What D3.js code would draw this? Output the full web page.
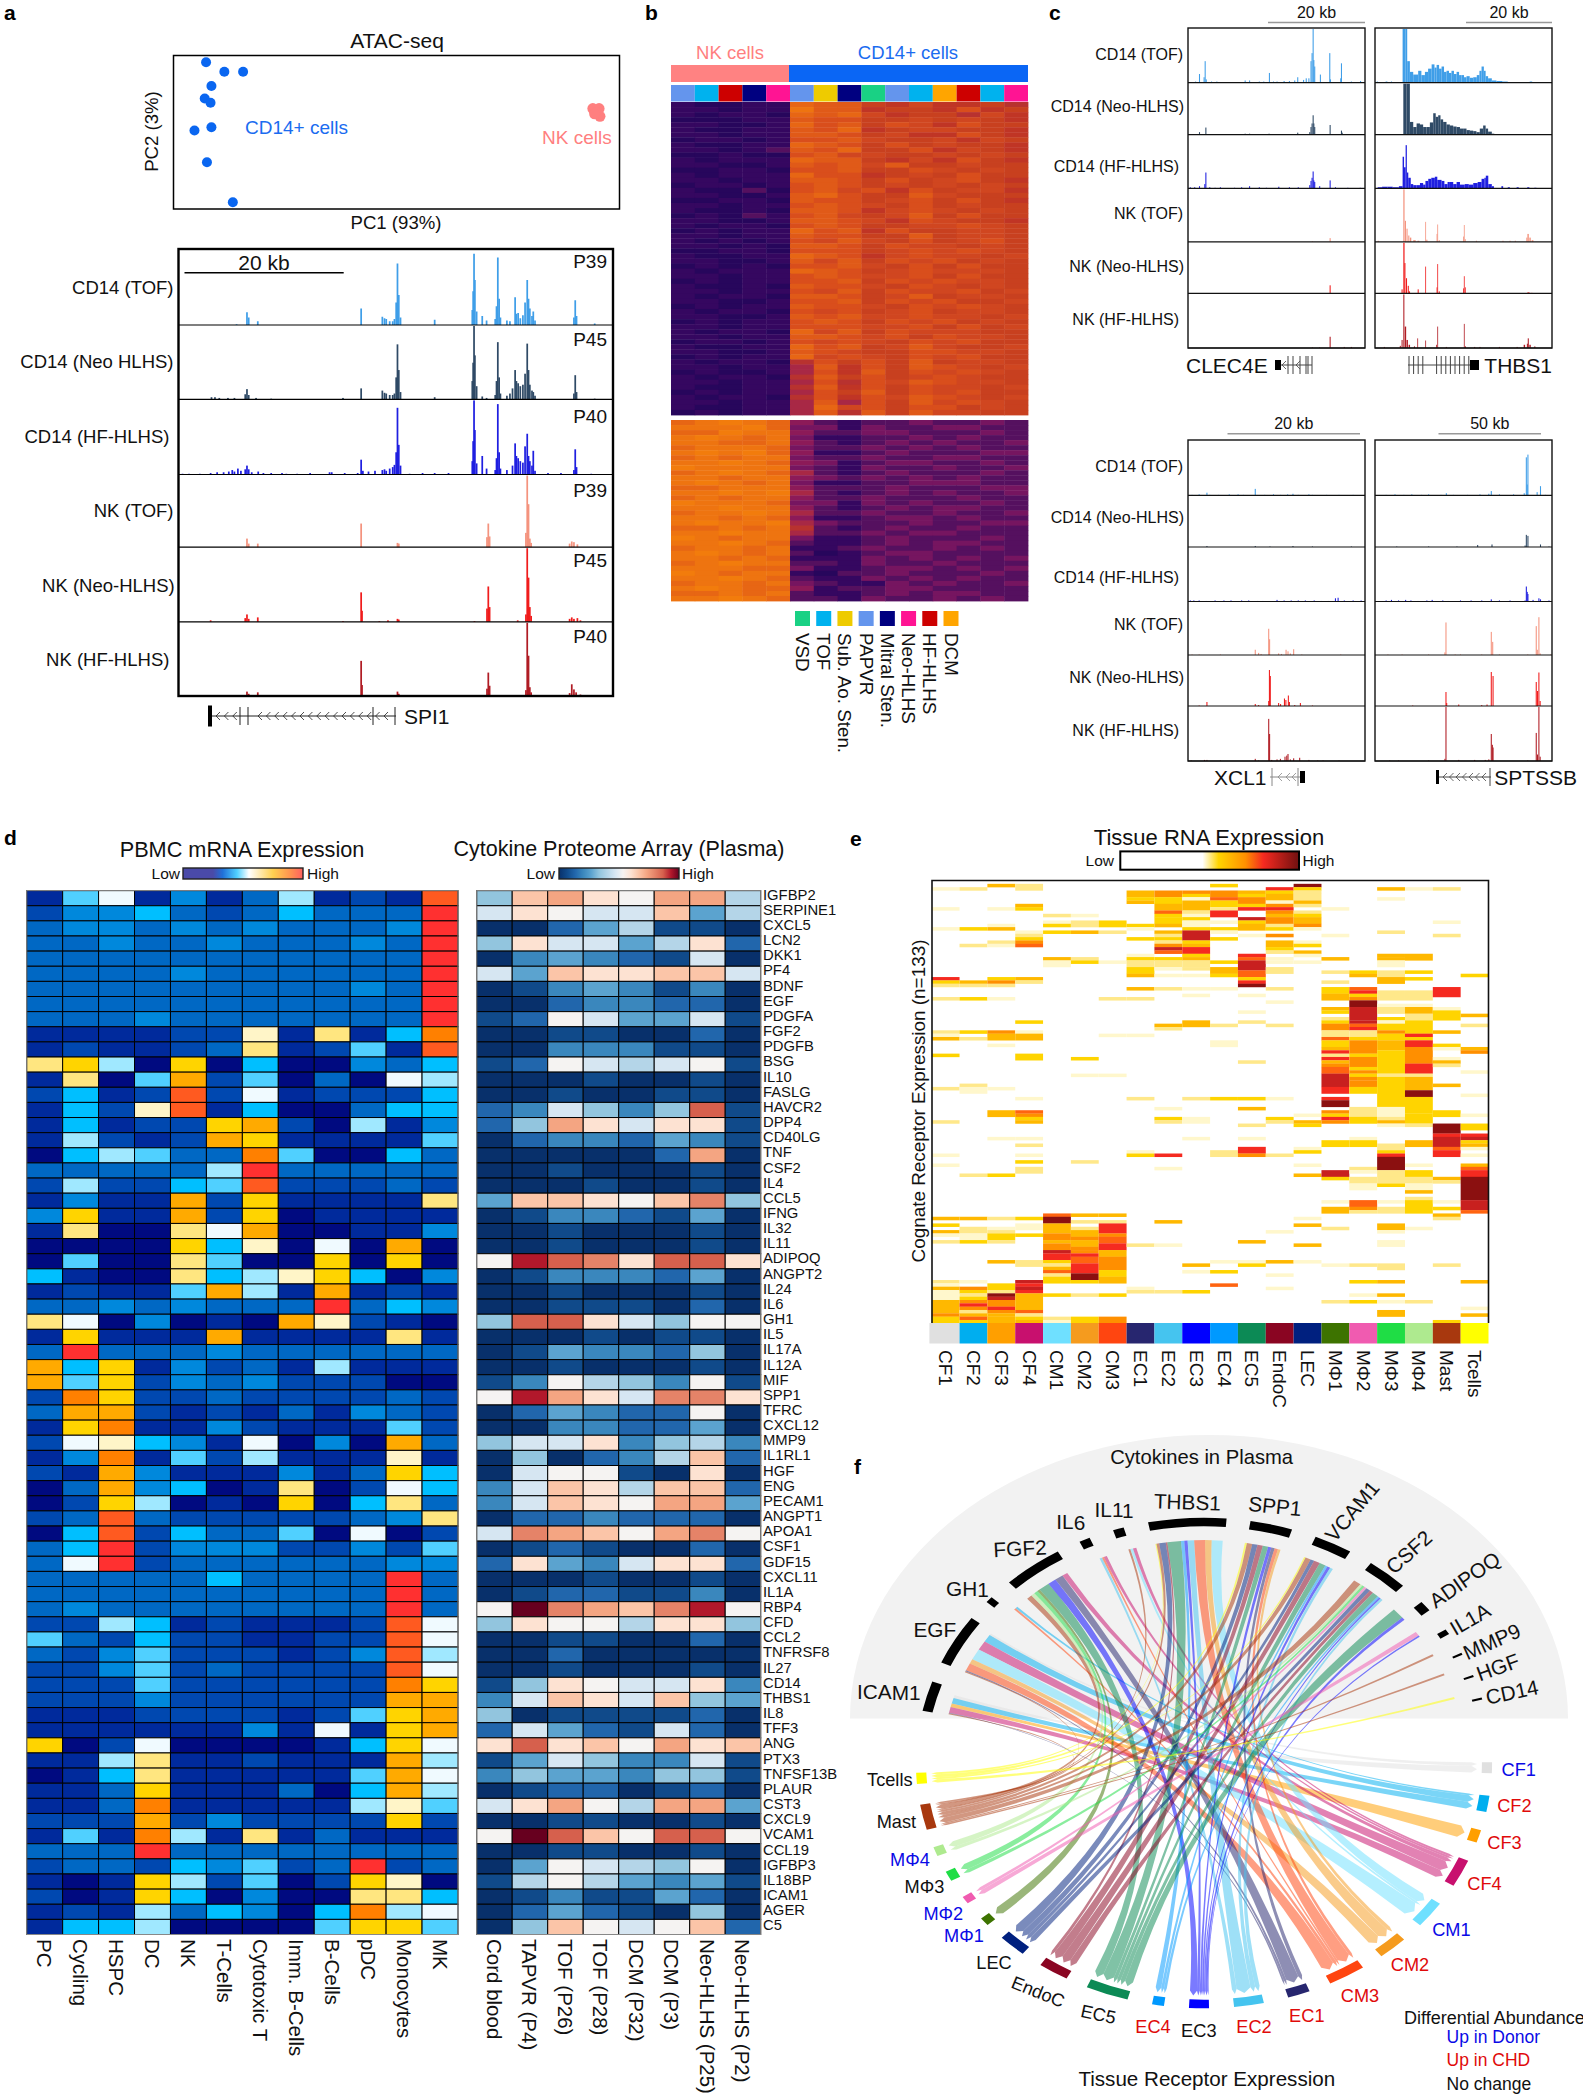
<!DOCTYPE html>
<html><head><meta charset="utf-8">
<script src="https://cdnjs.cloudflare.com/ajax/libs/d3/7.8.5/d3.min.js"></script>
<style>html,body{margin:0;padding:0;background:#fff}svg{display:block}text{font-family:"Liberation Sans",Arial,sans-serif}</style>
</head><body><div id="c"></div>
<script>
// ---------- PANEL a : PCA ----------
const pcaCD14x=[7.3,11.4,15.6,8.5,7.0,8.3,4.7,8.5,7.5,13.3];
const pcaCD14y=[95.6,89.4,89.4,80.1,72.0,69.2,51.1,53.3,30.5,4.4];
const pcaNKx=[94.0,95.4,94.9,95.6,94.4];
const pcaNKy=[65.4,65.4,62.9,60.4,62.0];
// ---------- PANEL a : tracks, [position, height, optional bin width] ----------
const trackNamesA=["CD14 (TOF)","CD14 (Neo HLHS)","CD14 (HF-HLHS)","NK (TOF)","NK (Neo-HLHS)","NK (HF-HLHS)"];
const trackPatientsA=["P39","P45","P40","P39","P45","P40"];
const trackColors=["#3f9ee8","#2f4a66","#1f1fe0","#f4937e","#f01c1c","#b01c24"];
const spi1=[
 [[130,1],[154,17],[158,10],[179,5],[418,22],[467,11],[472,9],[476,8],[484,5],[491,5],[495,8],[499,30],[502,82],[505,40],[509,10],[588,7],[675,20],[677,45],[679,95],[681,60],[685,18],[698,12],[708,6],[728,8],[731,25],[734,90],[737,35],[740,10],[755,6],[762,5],[774,37],[777,15],[781,16],[786,9],[792,13],[797,30],[802,60],[805,35],[808,22],[813,12],[816,18],[820,6],[910,10],[913,33],[916,12],[958,2]],
 [[72,3],[80,3],[90,2],[110,2],[125,2],[150,7],[154,14],[158,6],[175,2],[210,1],[376,2],[418,15],[467,12],[472,9],[476,8],[484,6],[491,6],[495,8],[499,30],[502,75],[505,40],[509,10],[588,3],[675,25],[677,50],[679,100],[681,60],[685,18],[698,4],[708,2],[728,6],[731,25],[734,78],[737,30],[740,8],[755,5],[762,8],[768,15],[774,40],[777,25],[781,22],[786,18],[792,20],[797,35],[802,76],[805,40],[808,20],[813,12],[816,10],[820,5],[910,8],[913,33],[916,10],[958,1]],
 [[5,1],[20,1],[45,1],[70,2],[85,3],[100,3],[112,4],[120,6],[125,4],[133,8],[140,5],[150,7],[154,12],[158,7],[165,3],[180,4],[192,2],[210,2],[235,2],[245,1],[270,1],[300,2],[345,3],[350,3],[380,2],[410,2],[418,20],[422,5],[435,4],[450,5],[467,6],[472,7],[476,5],[484,8],[491,10],[495,13],[499,30],[502,90],[505,40],[509,12],[530,1],[560,2],[588,2],[620,2],[675,18],[677,45],[679,100],[681,60],[685,15],[698,25],[708,8],[728,6],[731,22],[734,95],[737,30],[740,8],[755,6],[768,12],[774,42],[777,25],[781,22],[786,18],[792,16],[797,38],[802,55],[805,25],[808,18],[813,12],[816,32],[820,5],[850,2],[880,2],[910,6],[913,34],[916,10],[950,1]],
 [[154,12],[158,5],[179,5],[418,33],[502,6],[505,5],[709,14],[712,33],[715,15],[802,100],[805,60],[799,20],[808,12],[811,6],[900,5],[905,8],[910,7],[918,4]],
 [[70,2],[150,5],[154,10],[158,4],[179,6],[376,1],[418,40],[420,15],[460,1],[480,2],[502,4],[505,3],[680,1],[709,18],[712,48],[715,20],[780,2],[799,10],[802,100],[805,60],[808,20],[811,8],[900,4],[905,6],[910,4],[918,5],[925,2]],
 [[60,1],[130,1],[154,6],[158,3],[179,5],[230,1],[350,1],[418,48],[420,15],[502,6],[505,3],[680,1],[709,10],[712,32],[715,14],[799,8],[802,100],[805,55],[808,12],[811,5],[900,4],[905,16],[910,9],[915,5],[925,2]]
];
// ---------- PANEL b ----------
const bGroupsNK=["#6495ed","#00b2ee","#cd0000","#000080","#ff1493"];
const bGroupsCD14=["#6495ed","#eecb00","#000080","#19d184","#6495ed","#00b2ee","#ffa500","#cd0000","#00b2ee","#ff1493"];
const bLegendNames=["VSD","TOF","Sub. Ao. Sten.","PAPVR","Mitral Sten.","Neo-HLHS","HF-HLHS","DCM"];
const bLegendColors=["#19d184","#00b2ee","#eecb00","#6495ed","#000080","#ff1493","#cd0000","#ffa500"];
const bTop=[
"10011cbb8797786","11011dbb7887a78","10110cbc9788697","00011baa8898987","11001cab8a97a88","10011bac7899887","11011bba8977a87",
"01101aab9889798","10011cba8a89887","11012bac88a7987","00100ab99889898","10111cbb8797a87","11001bab9b88988","00110aab88a9898","10111caa7898a88",
"11011bba8a89a87","01101aba8989898","10020ab9a7a8997","11001bca88b9888","00110baa89a8a87","11011aba98a8988","10010bba79a9898","01021ab989b8a88",
"11001bba97a9887","10110aba8899a98","01011cab7a88998","11011baa88b8998","10101a9b98a89a8","11010bba8a99898","00110aaa89a9a98","10011cba79a9989",
"11001b9b8a9a898","01010aab98a8a88","10111cba89a9998","11011aba99a8a88","01011aab8a9a998","10010baa98a9898","11011a9b8a99a89","10110bba89b8998",
"11001aab8a9a889","01011baa98a9a98","10110a9a89a8998","11001bab99a9989","01011aba8a9a898","11011aaa99a8a89","10110c9b8a99988",
"11011bba9a8a998","01101a9a98a9a88","10011cab89b9889","11001ba988aa998","01011c9a98a9a88","101106a8a8b8998","110115b7a8ba989","010015a7b8a9a98",
"101106b8a89a988","110115a6a9ba998","100116b7a8a9989","010115a8b8a9a88","101106a7a9ba989","110115b5a8b9a98","100115c9a8aa898","010115b6b8b9988"];
const bBottom=[
"cdedc4212232232","dddec3313223322","ccedd4223322232","dedcd3112232322","ddccd4212323223","cdddc3223232322","dedec4112322233",
"cdcdd3223223322","ddedc4312332232","edddd3213223223","cdedc5212322232","ddcdd4323232322","dedcd3112233322","ccddd4222322233",
"ddede5212323223","cdcdd4223222322","edddc3313232232","ddedd4212323322","cdded5223223223","ddcdc4112332322","dedde5322232233",
"ccdcd6212322322","ddedd5223233222","edcdd3112322232","ddedc2112323322","cddcd1123223232","dedcd2012332222","ddcdc1113232323",
"cdedd2213223222","dddcc3112332323","edcdd1022322232","ddedc2113232322","cddcd3211323223","dedcc4122332222","ccdcd2112323322","ddedc2213223232"];
// ---------- PANEL c ----------
const cTrackNames=["CD14 (TOF)","CD14 (Neo-HLHS)","CD14 (HF-HLHS)","NK (TOF)","NK (Neo-HLHS)","NK (HF-HLHS)"];
const clec4e=[
 [[20,1],[40,2],[62,16],[88,10],[94,40],[100,6],[130,2],[160,2],[200,1],[230,1],[290,1],[320,4],[345,4],[400,2],[425,2],[457,18],[480,2],[500,2],[540,3],[570,3],[600,4],[617,10],[650,5],[665,8],[680,8],[692,40],[698,55],[704,100],[708,42],[713,30],[745,15],[798,55],[802,6],[860,8],[864,36],[920,2],[972,3]],
 [[62,5],[98,14],[190,1],[320,2],[345,2],[455,2],[617,4],[685,5],[692,15],[698,22],[704,38],[708,22],[713,15],[800,19],[864,8],[868,4],[972,1]],
 [[10,2],[35,2],[62,4],[92,8],[98,30],[120,2],[150,1],[180,2],[260,1],[300,2],[345,4],[400,2],[440,1],[510,3],[570,2],[620,2],[685,6],[692,14],[698,20],[704,32],[708,15],[713,12],[741,4],[800,15],[830,2],[900,1],[970,1]],
 [[700,1],[800,7]],
 [[800,16]],
 [[700,1],[740,1],[800,21],[880,2],[920,2]]
];
const thbs1=[
 [[10,2],[60,2,10],[90,2],[156,100,8],[164,100,9],[173,100,9],[182,40,15],[197,20,19],[216,15,28],[244,22,18],[262,14,20],[282,20,18],[300,26,20],[320,34,16],[336,28,12],[348,33,14],[362,26,14],[376,30,14],[390,20,14],[404,22,14],[418,18,14],[432,22,14],[446,16,15],[461,20,14],[475,14,14],[489,14,14],[503,10,14],[517,12,18],[535,9,20],[555,10,20],[575,14,15],[590,22,12],[602,30,13],[615,22,10],[625,12,14],[639,8,21],[660,4,26],[686,3,34],[720,2,30],[760,1,14],[874,2,14],[900,1,14]],
 [[160,100,18],[178,100,19],[197,25,19],[216,15,19],[235,22,19],[254,20,18],[272,15,19],[291,15,19],[310,24,19],[329,42,14],[343,35,14],[357,38,13],[370,30,15],[385,25,19],[404,20,19],[423,18,19],[442,16,19],[461,15,19],[480,12,18],[498,12,19],[517,9,19],[536,8,19],[555,7,18],[573,5,19],[592,12,19],[611,18,14],[625,12,14],[639,6,21],[660,2,14],[760,1,8]],
 [[15,2,25],[40,3,30],[70,3,30],[100,2,35],[135,4,21],[156,60,8],[164,40,9],[173,82,7],[180,30,8],[188,20,14],[202,8,14],[216,6,19],[235,6,19],[254,10,18],[272,7,13],[285,14,16],[301,18,17],[318,20,20],[338,22,14],[352,16,24],[376,14,16],[392,8,18],[410,12,13],[423,12,19],[442,8,19],[461,12,19],[480,7,27],[507,8,23],[530,7,25],[555,10,25],[580,12,22],[602,18,16],[618,20,8],[626,24,14],[640,8,20],[660,4,12],[714,4,10],[750,2,12],[800,2,12],[860,2,12],[900,1,12]],
 [[15,2],[160,100,7],[169,40,6],[178,25,6],[188,12,6],[197,8,8],[216,3,14],[240,2,10],[284,38,4],[290,4],[348,15,4],[352,33,4],[360,3,6],[498,10,4],[502,32,4],[508,5,4],[570,2],[720,2],[760,2],[790,2],[855,8,6],[861,15,8],[872,8,8],[885,3,10]],
 [[150,8],[160,100,7],[166,60,6],[175,30,6],[185,15,6],[192,4,6],[241,8,6],[284,53,4],[348,12,4],[352,58,4],[360,4,6],[498,10,4],[502,34,4],[508,12,4],[861,2,12],[880,1,10]],
 [[50,2],[140,4],[150,15,6],[160,100,6],[168,40,8],[178,15,8],[190,6,8],[220,3],[239,18,4],[284,14,4],[345,6,4],[352,40,4],[400,2],[502,45,4],[508,3],[560,2],[590,2],[700,2],[800,2],[840,6,8],[858,8,6],[863,18,6],[872,6,8],[900,3]]
];
const xcl1=[
 [[20,1],[60,2],[104,5],[120,1],[170,1],[230,2],[280,2],[310,1],[377,12],[430,1],[480,2],[520,1],[560,2],[590,3],[620,1],[680,2],[700,1],[780,1],[850,1],[930,1]],
 [[104,2],[377,2],[460,1],[590,2],[700,1],[920,1]],
 [[10,2],[30,2],[60,2],[100,1],[150,2],[200,2],[240,2],[300,2],[340,2],[390,1],[420,1],[500,3],[540,2],[580,2],[620,2],[660,2],[710,2],[750,1],[790,1],[830,6],[845,7],[880,2],[930,2],[975,2]],
 [[20,1],[60,1],[180,1],[377,10],[396,4],[410,2],[453,50],[458,30],[509,3],[525,2],[551,10],[562,7],[575,3],[594,11],[640,1],[860,1]],
 [[60,1],[104,8],[377,4],[396,2],[453,10],[457,72],[462,60],[509,6],[520,4],[542,15],[550,12],[564,21],[570,8],[600,2],[632,6],[700,1]],
 [[15,1],[90,2],[104,2],[180,1],[377,4],[396,1],[453,78],[458,50],[470,2],[500,3],[519,4],[545,8],[555,10],[562,13],[575,3],[594,5],[628,6],[680,2],[730,1],[760,1],[850,1]]
];
const sptssb=[
 [[60,1],[110,2],[160,1],[205,2],[260,1],[300,2],[370,1],[400,4],[440,1],[520,1],[590,2],[640,3],[654,8],[700,2],[780,2],[840,4],[852,70],[857,20],[861,75],[913,6],[932,17],[960,1]],
 [[120,1],[300,1],[460,1],[577,4],[658,5],[845,3],[852,24],[861,22],[932,5],[980,1]],
 [[60,2],[90,3],[130,2],[170,3],[200,2],[240,1],[290,2],[320,3],[380,2],[410,1],[480,2],[540,2],[600,2],[654,4],[700,2],[760,2],[845,2],[852,28],[857,18],[861,14],[890,3],[923,6],[932,4],[980,2]],
 [[70,1],[150,1],[300,1],[392,5],[398,62],[450,1],[480,1],[600,1],[654,44],[662,25],[700,1],[860,1],[908,55],[914,10],[923,72],[930,3],[990,1]],
 [[210,1],[398,28],[402,6],[470,3],[600,2],[630,3],[654,68],[664,60],[908,48],[915,30],[923,67],[930,10]],
 [[80,1],[130,1],[300,1],[392,4],[398,100],[470,2],[560,2],[620,2],[640,3],[654,50],[660,30],[664,25],[860,1],[908,52],[915,12],[923,100],[930,8]]
];
const scaleBarLabels=["20 kb","20 kb","20 kb","50 kb"];
// ---------- PANEL d ----------
const pbmcCells=["PC","Cycling","HSPC","DC","NK","T-Cells","Cytotoxic T","Imm. B-Cells","B-Cells","pDC","Monocytes","MK"];
const plasmaSamples=["Cord blood","TAPVR (P4)","TOF (P26)","TOF (P28)","DCM (P32)","DCM (P3)","Neo-HLHS (P25)","Neo-HLHS (P2)"];
const cytokines=["IGFBP2","SERPINE1","CXCL5","LCN2","DKK1","PF4","BDNF","EGF","PDGFA","FGF2","PDGFB","BSG","IL10","FASLG","HAVCR2","DPP4","CD40LG","TNF","CSF2","IL4","CCL5","IFNG","IL32","IL11","ADIPOQ","ANGPT2","IL24","IL6","GH1","IL5","IL17A","IL12A","MIF","SPP1","TFRC","CXCL12","MMP9","IL1RL1","HGF","ENG","PECAM1","ANGPT1","APOA1","CSF1","GDF15","CXCL11","IL1A","RBP4","CFD","CCL2","TNFRSF8","IL27","CD14","THBS1","IL8","TFF3","ANG","PTX3","TNFSF13B","PLAUR","CST3","CXCL9","VCAM1","CCL19","IGFBP3","IL18BP","ICAM1","AGER","C5"];
const pbmcValues=["16814137121e","24453235333f","34434343334f","33433433343f","33333333333f","33334333333f","33333333343f","33333333333f","33343333333f",
"11112291a15d","121123a1261e","ab70b0500435","1a06c2603087","2512e2812225","1529e1500355","15122bc20714","17212cb11116","057633d60053","333337f33333","272256e22232","1411c2b1111a","4b11c2b01111","1a00a8c00114","0000b59080c0","0600a600b0b0","5100a579b504","12116c71c121","33434333f354","a804010c9210","1b111c1111a1","3f3334333333","c5b142317111","c6b243422200","2db223222232","3cc212131432","1bd114211162","2895418040c3",
"14d162711191","21c4111413b5","03c4501a0285","02b7010b05a3","23e32222234a","05e253360802","35f244422426","38f233333344","3333353333f3","3333333333f3","3433333333f3","2275121112e8","6325221122e8","3246222124e7","2246232222e8","2226222222db","2224222222cc","1112222126bc","1111114181bc","b028000015b8","117a112111c7","015a111116c8","113b111305c7","113d11111796","222c242222b2","161d71a13111","333f33333333","233254623f23","101b72602b90","201b50400aa5","121735405d78","155700006bb6"];
const plasmaValues=["5ab98bb6","79877a46","00246110","59774692","03432170","74a99aa7","01343130","00233220","12874471","00110020","00333110","12876781","00010010","00100110","237535d1","25b97991","02332431","000002b0","00100010","00010010","4aa98ac5","01332140","00100010","00100010","8edc9dd9","01333240","00100010","00111020","5dd97588","00010110","01433250","00100010","13865381","8eb97cc9","02432280","00332240","57793563","050236a2","07881090","37a96aa2","37a98bb4","02232220","7cba8bc8","01210020","29437992","00010010","01221130","8fcbace8","59886995","00110020","00200000","00100010","15987793","37a97a54","50111120","27421720","9d9a8b9a","14753371","35443551","01220120","79b86bb4","00110010","8fda8dd8","00110010","04876580","16864341","01311420","02421050","05a878a2"];
// ---------- PANEL e ----------
const tissueCells=["CF1","CF2","CF3","CF4","CM1","CM2","CM3","EC1","EC2","EC3","EC4","EC5","EndoC","LEC","MΦ1","MΦ2","MΦ3","MΦ4","Mast","Tcells"];
const tissueColors=["#e0e0e0","#00aeef","#ff9f00","#c8106e","#6fe0ff","#f59b1e","#ff4510","#27266f","#45c4ef","#0000ff","#0099ff","#0c8a55","#8a0522","#00207f","#3d7300","#f05bb0","#1fdd45","#aeea8f","#a8380e","#ffff00"];
const receptorExpr=[
"2:1 8:1 14:1 29:7 30:3 31:2 35:2 45:2 46:1 47:4 52:3 62:2 72:2 82:1 85:1 101:4 103:3 105:4 106:1 108:2 120:2 121:1 122:4 123-125:1 126-129:4 130:5 131-132:3",
"2:2 14:3 19:2 30:4 31:2 35:3 45:3 47:2 61:2 62-63:1 88:2 101:4 104-105:2 106-107:1 108:3 120:1 122:5 123:3 124:2 125:3 126:5 127:7 128:5 129:2 130:4 131:6 132:3",
"1:4 8:1 13:1 14:4 18:2 19:1 29:3 30:5 31:2 35:1 45:5 46-47:4 49:1 62:1 69-70:4 77:1 88:3 101:2 104:1 105:2 106-107:3 108:2 114:4 121-122:3 123:2 124:9 125:8 126-127:5 128:7 129:5 130:4 131-132:4",
"1-2:2 7:4 8:3 15:1 16:2 17:3 18:5 19:6 29:4 30:2 42:3 45:1 46-47:4 52-53:3 65:1 69:6 70:5 71:3 72:4 77:1 79:2 82:1 84:3 86-87:2 101:3 103-104:1 106:3 114-115:2 120:8 121:7 122:8 123:7 124-125:4 126-128:4 129:6 130:2 131:3 132:4",
"10:2 12:1 13:3 15:3 23:4 24-25:1 100:6 101-102:9 103-105:4 106-107:5 108:4 109-110:5 111:8 112-113:7 114:3 115:2 116:4 117:6 118:2 119:3 120:3 124:3 131:2 132:1",
"10:1 12-13:2 15:4 23:2 24:3 53:3 58:1 84:2 100:4 102:2 104:2 105-106:4 107:5 108-109:4 110:5 111:5 112:7 113-114:6 115-117:7 118-119:9 120:3 124:2 131-132:3",
"12-13:3 15:2 24:1 35:2 46:1 58:1 100:4 102:2 103-105:7 106:5 107-108:6 109-110:7 111-112:4 113-116:5 117-118:3 119-120:4 124:3 131-132:5",
"3-4:4 5:3 6:4 13:3 14:1 17:3 22:1 23:3 24-25:2 26-27:3 28:4 32:4 35:2 46:1 65:2 81:1 82:3 109:2 122:1 123:2",
"3-4:5 5-6:3 7-8:4 9:6 10:3 11-12:3 13:4 15:4 16:2 17:3 18:2 19:5 20:8 21:6 23:3 24-25:2 26:1 28:1 32:2 43:4 44:2 68:1 71:3 72:2 82:7 86:1 102:4 109:1 123:2",
"3:5 4:3 5:1 6-8:4 9:2 10:1 11:3 12-13:1 14:3 15-17:8 18:3 19:4 20-21:7 22:3 23:4 24-25:2 26:2 28:1 32:1 34:1 42-43:4 65:2 71-72:1 77:1 115:4 117:1 123:3",
"1:3 3-4:5 5:6 6-7:3 8:2 9-10:7 12:1 14:3 15:1 17:3 24:3 26-27:4 28:3 32:1 43:2 48-49:1 65:3 81-82:2 114:1 117:3 121:6",
"3:4 4:3 5-6:5 7:3 8:7 11:8 12:3 13-14:4 16:1 22:7 23:6 24-26:8 27-28:6 29:3 30:7 31:9 34:1 39:1 42:2 54:2 65:3 68:4 73:2 77:1 80-81:7 82:5 108:4 114:1 115:3",
"2:7 3:3 4-5:4 6:1 7:5 8:7 9:5 10:4 11-12:5 13:2 14:3 16:5 18-19:4 20:3 21:2 23:1 24:1 26-27:2 32:2 36:1 43:2 65:1 71:3 72:2 82:2 105:1 114:4 118:1 122:1",
"1:9 2:3 3:2 4-5:2 6:4 7:2 9:2 10:3 11-12:4 13:5 14:1 18:1 19:3 21:4 22:1 24:1 70:1 72:4 73:3 80:1 81:3 85:1 88:4 101:1 103:4 109:4 114:1",
"8:1 16:1 23:4 27:2 30:2 32-33:3 34-35:4 38:4 39:3 41:2 42:3 43-44:5 45-46:2 47:6 48-49:3 50:4 51:7 52:2 53:7 54:4 55:5 56-57:6 58-61:8 62-63:7 65:7 66-67:9 69:5 70:3 71:7 72:5 78-79:3 87-88:8 89:3 96:1 98-99:4 104:2 115:1 126:2",
"27:3 28:4 32:6 33:7 34:3 35:5 36-37:9 38-41:8 42:8 43:6 44:7 45-46:2 47:3 48-51:5 52:3 53-55:5 56:3 57:5 58:3 59:5 60-61:5 62-63:3 68-70:2 71-72:3 77:1 78-79:3 86:2 87:1 89-90:2 91-92:1 96-97:6 98:5 99:2 115:2 120:3 124:1 126:3",
"2:4 5:1 15:2 22:4 23:4 24-25:1 27-28:2 29-30:4 33-35:2 37:1 38-39:2 41:3 42:1 43-44:3 45:5 46-47:3 48-50:4 51-52:3 53-57:3 58:2 59-67:3 68-70:1 71:2 72:4 73:1 79:2 80:2 81:3 82:7 83-86:9 87-88:2 89-90:2 91:3 96:1 98-99:2 103-104:4 105:1 108-109:1 115-116:2 120:4 124:4 126:1 129-130:4",
"2:1 22-23:4 27:3 29:3 33-35:2 37:1 38-39:4 40-41:2 42-45:3 46:7 47:3 48-49:7 50-54:5 55-57:7 58:2 59-62:4 63-64:9 65-69:3 70-72:3 73:2 78-79:4 85:1 87-88:3 89-90:2 91-92:1 93:4 95:2 96-99:3 104:1 126:2",
"2:2 12:1 16:2 32-34:7 38:1 39-41:3 45:4 49:3 50:1 53:1 54:4 55:2 61:4 69-70:3 73-75:9 76:7 77-79:8 80:6 81-82:7 89:4 90:2 96:1 98:3 100:4 101:2 115:2 132:3",
"28:3 40:4 43:2 50:4 51:5 57:1 64:1 70:1 73-74:3 76:7 77:8 78:3 79:4 80:1 82:1 85:4 86:6 87-88:7 89-95:9 96-98:8 99:6 120:4 128:1 130:4"];
// ---------- PANEL f : chord ----------
const sourceNames=["ICAM1","EGF","GH1","FGF2","IL6","IL11","THBS1","SPP1","VCAM1","CSF2","ADIPOQ","IL1A","MMP9","HGF","CD14"];
const receptorChange=["up","chd","chd","chd","up","chd","chd","chd","chd","none","chd","none","none","none","up","up","none","up","none","none"];
const links=[
["ICAM1","CF1",1],["ICAM1","CF2",2],["ICAM1","CF3",1.2],["ICAM1","CF4",2],["ICAM1","Mast",.4],["ICAM1","EC1",.2],
["EGF","CF1",.5],["EGF","CF2",2],["EGF","CF4",2.5],["EGF","CM1",3],["EGF","CM2",1.2],["EGF","CM3",2],["EGF","EC1",.3],["EGF","Mast",.3],
["GH1","CF2",.5],["GH1","CM3",.5],
["FGF2","Mast",1],["FGF2","MΦ4",.7],["FGF2","MΦ3",.7],["FGF2","MΦ1",.5],["FGF2","EC5",2],["FGF2","EC3",1.5],["FGF2","EC1",1.5],["FGF2","CF4",1],
["IL6","EC2",.4],["IL6","CM3",.3],["IL6","CF4",.5],
["IL11","Mast",.3],["IL11","CM1",.4],["IL11","CF4",.5],
["THBS1","Tcells",.2],["THBS1","Mast",.5],["THBS1","LEC",1.2],["THBS1","EndoC",.3],["THBS1","EC5",2.5],["THBS1","EC4",.6],["THBS1","EC3",.6],["THBS1","EC2",1.2],["THBS1","CM3",2],["THBS1","CM2",1.2],["THBS1","CM1",2],
["SPP1","Tcells",.3],["SPP1","Mast",.8],["SPP1","LEC",.8],["SPP1","EndoC",.8],["SPP1","EC5",.8],["SPP1","EC3",.5],["SPP1","EC1",.5],["SPP1","CM3",.5],["SPP1","CM2",.4],
["VCAM1","Tcells",.2],["VCAM1","Mast",.7],["VCAM1","LEC",.5],["VCAM1","EndoC",.8],["VCAM1","EC5",.8],["VCAM1","EC4",.3],["VCAM1","EC3",.4],["VCAM1","EC2",.4],
["CSF2","Mast",1.2],["CSF2","MΦ4",.4],["CSF2","MΦ3",.4],["CSF2","MΦ2",.4],["CSF2","LEC",.7],["CSF2","EndoC",.6],["CSF2","EC5",1],["CSF2","EC4",.3],["CSF2","EC3",.3],["CSF2","EC2",.4],
["ADIPOQ","EC5",1.8],["ADIPOQ","EC3",.5],
["IL1A","MΦ2",.6],["IL1A","EC3",.2],
["MMP9","Mast",.3],["HGF","Mast",.4],["CD14","Tcells",.3]];

// ================= LAYOUT CONSTANTS & DRAWING =================
const W=1583,H=2100;
const svg=d3.select("#c").append("svg").attr("width",W).attr("height",H).attr("viewBox",`0 0 ${W} ${H}`);
const defs=svg.append("defs");
function T(x,y,s,o={}){
  const t=svg.append("text").attr("x",o.rot?0:x).attr("y",o.rot?0:y).text(s)
   .attr("font-size",o.size||18).attr("fill",o.fill||"#111").attr("text-anchor",o.anchor||"start")
   .attr("dominant-baseline","central");
  if(o.weight)t.attr("font-weight",o.weight);
  if(o.rot)t.attr("transform",`translate(${x},${y}) rotate(${o.rot})`);
  return t;
}
function grad(id,stops){
  const g=defs.append("linearGradient").attr("id",id);
  stops.forEach(s=>g.append("stop").attr("offset",s[0]).attr("stop-color",s[1]));
}
function bars(g,data,x,y,color,defW){
  const base=y(0);
  g.selectAll(null).data(data).join("rect")
   .attr("x",d=>x(d[0]))
   .attr("width",d=>Math.max(0.8,x(d[2]||defW)-x(0)))
   .attr("y",d=>y(d[1])).attr("height",d=>base-y(d[1])).attr("fill",color);
}
// panel letters
[["a",4,12],["b",645,12],["c",1049,12],["d",4,837],["e",850,838],["f",854,1466]].forEach(l=>T(l[1],l[2],l[0],{size:21,weight:"bold",fill:"#000"}));

// ---- a PCA
const pcaX=d3.scaleLinear([0,100],[173.5,619.6]),pcaY=d3.scaleLinear([0,100],[209,55.5]);
svg.append("rect").attr("x",173.5).attr("y",55.5).attr("width",446).attr("height",153.5).attr("fill","none").attr("stroke","#000").attr("stroke-width",1.5);
svg.append("g").selectAll("circle").data(pcaNKx).join("circle").attr("cx",d=>pcaX(d)).attr("cy",(d,i)=>pcaY(pcaNKy[i])).attr("r",5.5).attr("fill","#ff7f7f");
svg.append("g").selectAll("circle").data(pcaCD14x).join("circle").attr("cx",d=>pcaX(d)).attr("cy",(d,i)=>pcaY(pcaCD14y[i])).attr("r",5).attr("fill","#0a66f0");
T(397,40.6,"ATAC-seq",{size:21,anchor:"middle"});
T(396,222.5,"PC1 (93%)",{size:18.6,anchor:"middle"});
T(151,131.5,"PC2 (3%)",{size:18.6,anchor:"middle",rot:-90});
T(245,127,"CD14+ cells",{size:19,fill:"#1a6cf0"});
T(542,137,"NK cells",{size:19,fill:"#ff7f7f"});
// ---- a tracks
const aX=d3.scaleLinear([0,1000],[179.5,612]);
const aBase=[325,399.4,474.5,547.2,621.8,696];
const aTop=[249].concat(aBase.slice(0,5));
spi1.forEach((tr,i)=>{
  const y=d3.scaleLinear([0,100],[aBase[i],aBase[i]-(aBase[i]-aTop[i])+1]);
  bars(svg.append("g"),tr,aX,y,trackColors[i],4);
  svg.append("line").attr("x1",179).attr("x2",612).attr("y1",aBase[i]).attr("y2",aBase[i]).attr("stroke","#000").attr("stroke-width",1.2);
});
svg.append("rect").attr("x",178.5).attr("y",249).attr("width",434.5).attr("height",447).attr("fill","none").attr("stroke","#000").attr("stroke-width",2.4);
const aLabX=[173.5,173.5,169.4,173.5,174.7,169.4],aLabY=[287,361,436,510.4,585,659],aPY=[261.6,339.7,416,490,560.7,636];
trackNamesA.forEach((n,i)=>{T(aLabX[i],aLabY[i],n,{size:18.5,anchor:"end"});T(607,aPY[i],trackPatientsA[i],{size:19,anchor:"end"});});
svg.append("line").attr("x1",184.5).attr("x2",343.7).attr("y1",272.7).attr("y2",272.7).attr("stroke","#000").attr("stroke-width",1.4);
T(264,262,"20 kb",{size:21,anchor:"middle"});
// gene helper
const chevSize=4;
function gene(y,x0,x1,exons,ticks,chev,color){
  const g=svg.append("g");
  g.append("line").attr("x1",x0).attr("x2",x1).attr("y1",y).attr("y2",y).attr("stroke",color).attr("stroke-width",1);
  g.selectAll(null).data(ticks).join("line").attr("x1",d=>d).attr("x2",d=>d).attr("y1",y-9).attr("y2",y+9).attr("stroke",color).attr("stroke-width",1);
  g.selectAll(null).data(exons).join("rect").attr("x",d=>d[0]).attr("width",d=>d[1]).attr("y",d=>y-d[2]/2).attr("height",d=>d[2]).attr("fill","#000");
  g.selectAll(null).data(chev).join("path").attr("d",d=>`M${d+chevSize},${y-4}L${d},${y}L${d+chevSize},${y+4}`).attr("fill","none").attr("stroke",color).attr("stroke-width",.8);
}
gene(716,210,396,[[208,4,21]],[240,248,373,395],d3.range(216,392,8.4).filter(v=>v<238||v>250),"#222");
T(404,716,"SPI1",{size:21});

// ---- b heat
const bX=d3.scaleBand(d3.range(15),[671,1028]);
const bPal=["#27065c","#350760","#55105f","#761560","#8c1a58","#a82845","#b8322f","#c03525","#c8401f","#d04620","#d94e1c","#e05a18","#e76614","#ee7410","#f27c0c"];
const bColor=d3.scaleLinear(d3.range(15),bPal);
function bBlock(rows,y0,y1){
  const y=d3.scaleBand(d3.range(rows.length),[y0,y1]);
  const g=svg.append("g");
  rows.forEach((r,i)=>g.selectAll(null).data(r.split("")).join("rect")
    .attr("x",(d,j)=>bX(j)).attr("y",y(i)).attr("width",bX.bandwidth()+.4).attr("height",y.bandwidth()+.4)
    .attr("fill",d=>bColor(parseInt(d,16))));
}
bBlock(bTop,102,415);bBlock(bBottom,420,601);
svg.append("rect").attr("x",671).attr("y",65).attr("width",118).attr("height",17).attr("fill","#ff8282");
svg.append("rect").attr("x",789).attr("y",65).attr("width",239).attr("height",17).attr("fill","#0a66f5");
bGroupsNK.concat(bGroupsCD14).forEach((c,i)=>svg.append("rect").attr("x",bX(i)).attr("y",85).attr("width",bX.bandwidth()).attr("height",16.5).attr("fill",c));
T(730,52,"NK cells",{size:18.5,fill:"#ff7f7f",anchor:"middle"});
T(908,52,"CD14+ cells",{size:18.5,fill:"#1a6cf0",anchor:"middle"});
const bLegX=d3.scalePoint(d3.range(8),[802.5,951]);
bLegendNames.forEach((n,i)=>{
  svg.append("rect").attr("x",bLegX(i)-7.5).attr("y",611).attr("width",15).attr("height",15).attr("fill",bLegendColors[i]);
  T(bLegX(i),633,n,{size:18.8,rot:90});
});

// ---- c
const cCols=[[1188,1365],[1375,1552]];
const cBase=[[82.6,134.7,188.3,241.8,293.4,348],[495.4,547,601.5,655,706,761]];
const cTop=[28,440];
const cLoci=[[clec4e,thbs1],[xcl1,sptssb]];
const cLabX=[1183,1184,1179,1183,1184,1179];
const cLabY=[[54,106,166,213,266,319],[466,517,577,624.5,677,730]];
cLoci.forEach((pair,r)=>{
  pair.forEach((locus,c)=>{
    const x=d3.scaleLinear([0,1000],cCols[c]);
    locus.forEach((tr,i)=>{
      const b=cBase[r][i],t=i?cBase[r][i-1]:cTop[r];
      const y=d3.scaleLinear([0,100],[b,t+1]);
      bars(svg.append("g"),tr,x,y,trackColors[i],6);
      svg.append("line").attr("x1",cCols[c][0]).attr("x2",cCols[c][1]).attr("y1",b).attr("y2",b).attr("stroke","#111").attr("stroke-width",1.2);
    });
    svg.append("rect").attr("x",cCols[c][0]).attr("y",cTop[r]).attr("width",177).attr("height",cBase[r][5]-cTop[r]).attr("fill","none").attr("stroke","#111").attr("stroke-width",1.4);
  });
  cTrackNames.forEach((n,i)=>T(cLabX[i],cLabY[r][i],n,{size:16,anchor:"end"}));
});
const sbX=[[1268,1365],[1466,1552],[1227.5,1360],[1438.5,1541]],sbY=[22.5,22.5,433.7,433.7];
scaleBarLabels.forEach((s,i)=>{
  svg.append("line").attr("x1",sbX[i][0]).attr("x2",sbX[i][1]).attr("y1",sbY[i]).attr("y2",sbY[i]).attr("stroke","#999").attr("stroke-width",1.6);
  T((sbX[i][0]+sbX[i][1])/2,sbY[i]-10,s,{size:16,anchor:"middle"});
});
T(1186,365,"CLEC4E",{size:21});
gene(365,1277,1312,[[1275,6,10]],[1288,1293,1300,1306,1308,1312],[1282,1296],"#444");
T(1552,365,"THBS1",{size:21,anchor:"end"});
gene(365,1408,1476,[[1470,9,10]],d3.range(1409,1470,4.6).filter(v=>v<1425||v>1433),[],"#444");
T(1214,777,"XCL1",{size:21});
gene(777,1270,1304,[[1300,5,12]],[1272,1298],[1278,1286,1292],"#888");
T(1577,777,"SPTSSB",{size:21,anchor:"end"});
gene(777,1438,1491,[[1436,3,14]],[1490],d3.range(1443,1488,6.5),"#444");

// ---- d left
const heatY=d3.scaleBand(cytokines,[890.6,1934.5]);
const pbmcX=d3.scaleBand(pbmcCells,[26.7,458]);
const pbmcPal=["#000a80","#002a9c","#0048b0","#0068c4","#0088dc","#00bfff","#50d0ff","#a0e8ff","#f0faff","#fff5c8","#ffe680","#ffd400","#ffaa00","#ff8000","#ff5a20","#ff3030"];
const pbmcColor=d3.scaleOrdinal(d3.range(16),pbmcPal);
const gDL=svg.append("g");
pbmcValues.forEach((r,i)=>gDL.selectAll(null).data(r.split("")).join("rect")
  .attr("x",(d,j)=>pbmcX(pbmcCells[j])).attr("y",heatY(cytokines[i]))
  .attr("width",pbmcX.bandwidth()).attr("height",heatY.bandwidth())
  .attr("fill",d=>pbmcColor(parseInt(d,16))).attr("stroke","#000").attr("stroke-width",1));
svg.append("rect").attr("x",26.7).attr("y",890.6).attr("width",431.3).attr("height",1043.9).attr("fill","none").attr("stroke","#888").attr("stroke-width",1);
pbmcCells.forEach(c=>T(pbmcX(c)+pbmcX.bandwidth()/2,1939,c,{size:20.5,rot:90}));
T(242,849,"PBMC mRNA Expression",{size:21.7,anchor:"middle"});
grad("gL",[[0,"#4a4aa8"],[.25,"#4a4aa8"],[.33,"#2070d8"],[.45,"#50d0ff"],[.55,"#ffffff"],[.75,"#ffd050"],[.9,"#ff9050"],[1,"#ff6060"]]);
svg.append("rect").attr("x",183).attr("y",868).attr("width",120).attr("height",11).attr("fill","url(#gL)").attr("stroke","#222").attr("stroke-width",1.4);
T(180,873,"Low",{size:15.5,anchor:"end"});T(307,873,"High",{size:15.5});
// ---- d right
const plasmaX=d3.scaleBand(plasmaSamples,[476.7,760.7]);
const plasmaPal=["#08306b","#104a8a","#2166ac","#3a87bd","#5ba3cf","#92c5de","#b4d5e8","#d6e6f2","#f5f3f2","#fde2d2","#fbc5a8","#f4a582","#e58368","#d6604d","#b2182b","#67001f"];
const plasmaColor=d3.scaleOrdinal(d3.range(16),plasmaPal);
const gDR=svg.append("g");
plasmaValues.forEach((r,i)=>gDR.selectAll(null).data(r.split("")).join("rect")
  .attr("x",(d,j)=>plasmaX(plasmaSamples[j])).attr("y",heatY(cytokines[i]))
  .attr("width",plasmaX.bandwidth()).attr("height",heatY.bandwidth())
  .attr("fill",d=>plasmaColor(parseInt(d,16))).attr("stroke","#000").attr("stroke-width",1));
svg.append("rect").attr("x",476.7).attr("y",890.6).attr("width",284).attr("height",1043.9).attr("fill","none").attr("stroke","#888").attr("stroke-width",1);
plasmaSamples.forEach(c=>T(plasmaX(c)+plasmaX.bandwidth()/2,1939,c,{size:20.5,rot:90}));
const labY=d3.scalePoint(cytokines,[894.7,1925.3]);
cytokines.forEach(c=>T(763,labY(c),c,{size:14.8}));
T(619,849,"Cytokine Proteome Array (Plasma)",{size:21.5,anchor:"middle"});
grad("gR",plasmaPal.map((c,i)=>[i/15,c]));
svg.append("rect").attr("x",559).attr("y",868).attr("width",120).attr("height",11).attr("fill","url(#gR)").attr("stroke","#222").attr("stroke-width",1.4);
T(555,873,"Low",{size:15.5,anchor:"end"});T(682,873,"High",{size:15.5});

// ---- e
const eX=d3.scaleBand(tissueCells,[931.7,1488.5]);
const eY=d3.scaleBand(d3.range(133),[880.5,1323.3]);
const ePal=["#ffffff","#fff7cc","#ffe88a","#ffd400","#ffb800","#ff8f00","#ff6410","#f52a20","#c8201f","#8b1010"];
const eColor=d3.scaleOrdinal(d3.range(10),ePal);
const gE=svg.append("g");
receptorExpr.forEach((s,c)=>{
  const cells=s.split(" ").map(t=>{const[p,v]=t.split(":");const[a,b]=p.split("-").map(Number);return{a,b:b===undefined?a:b,v:+v};});
  gE.selectAll(null).data(cells).join("rect")
    .attr("x",eX(tissueCells[c])).attr("width",eX.bandwidth())
    .attr("y",d=>eY(d.a)).attr("height",d=>eY(d.b)-eY(d.a)+eY.bandwidth()+.2)
    .attr("fill",d=>eColor(d.v));
});
svg.append("path").attr("d","M932,1323V880.5H1488.5V1323").attr("fill","none").attr("stroke","#111").attr("stroke-width",1.6);
tissueCells.forEach((c,i)=>{
  const x0=i?eX(c):929.4;
  svg.append("rect").attr("x",x0).attr("y",1323).attr("width",eX(c)+eX.bandwidth()-x0).attr("height",20.5).attr("fill",tissueColors[i]);
  T(eX(c)+eX.bandwidth()/2,1350,c,{size:19,rot:90});
});
T(1209,837,"Tissue RNA Expression",{size:22,anchor:"middle"});
grad("gE",[[0,"#fff"],[.46,"#fff"],[.55,"#ffd400"],[.7,"#ff9000"],[.8,"#f52a20"],[1,"#701010"]]);
svg.append("rect").attr("x",1120.3).attr("y",851.4).attr("width",178.7).attr("height",18.3).attr("fill","url(#gE)").attr("stroke","#000").attr("stroke-width",2);
T(1114,860,"Low",{size:15.5,anchor:"end"});T(1302.5,860,"High",{size:15.5});
T(918,1101,"Cognate Receptor Expression (n=133)",{size:18.9,anchor:"middle",rot:-90});

// ---- f
svg.append("path").attr("d","M850,1718.5A359,283.5 0 0 1 1568,1718.5Z").attr("fill","#f2f2f2");
const srcSpan={ICAM1:[-77.7,-70.6],EGF:[-65.8,-53.8],GH1:[-49,-47.5],FGF2:[-42.6,-30.5],IL6:[-25.6,-23.4],IL11:[-18.4,-16.2],THBS1:[-11.2,4.5],SPP1:[9.3,17.8],VCAM1:[22.8,30.5],CSF2:[35.4,43.7],ADIPOQ:[49,51.5],IL1A:[57,58.3],MMP9:[63.3,63.8],HGF:[69,69.5],CD14:[74.5,75]};
const tgtSpan={CF1:[89.8,92.4],CF2:[97.7,101.5],CF3:[105.9,108.9],CF4:[113.5,120],CM1:[125,131.4],CM2:[136,142],CM3:[146.5,154],EC1:[158.5,163],EC2:[168,174],EC3:[179,183],EC4:[188,190.4],EC5:[195.4,204],EndoC:[208.5,214.6],LEC:[219,224.6],"MΦ1":[228.7,230.7],"MΦ2":[235.1,236.9],"MΦ3":[241.3,243.7],"MΦ4":[247.7,249.9],Mast:[254.2,260.2],Tcells:[265.1,267.7]};
const srcRibbon={...srcSpan,ICAM1:[-77.4,-72.3],EGF:[-66,-54.5],FGF2:[-42.5,-31.5],THBS1:[-10.7,4.1],SPP1:[9,17],VCAM1:[22.5,29.5],CSF2:[35,43],ADIPOQ:[46.5,50],IL1A:[54,55.5],MMP9:[60.8,61.3],HGF:[66.3,66.8],CD14:[72.8,73.3],GH1:[-46.5,-45.5],IL6:[-23.5,-21.8],IL11:[-16.8,-15]};
const R=1000,cg=svg.append("g").attr("transform","translate(1204,1763) scale(.283,.241)");
const pol=(a,r)=>{const t=a*Math.PI/180;return[r*R*Math.sin(t),-r*R*Math.cos(t)];};
const colorOf=n=>tissueColors[tissueCells.indexOf(n)];
const ends=links.map(l=>({s:l[0],t:l[1],w:l[2]}));
d3.group(ends,d=>d.s).forEach((arr,s)=>{
  const tot=d3.sum(arr,d=>d.w),[a0,a1]=srcRibbon[s];
  arr.sort((p,q)=>d3.mean(tgtSpan[q.t])-d3.mean(tgtSpan[p.t]));
  let c=a0;arr.forEach(d=>{d.s0=c;c+=d.w/tot*(a1-a0);d.s1=c;});
});
d3.group(ends,d=>d.t).forEach((arr,t)=>{
  const tot=d3.sum(arr,d=>d.w),[a0,a1]=tgtSpan[t];
  arr.sort((p,q)=>d3.mean(srcSpan[q.s])-d3.mean(srcSpan[p.s]));
  let c=a0;arr.forEach(d=>{d.t0=c;c+=d.w/tot*(a1-a0);d.t1=c;});
});
const rS=.925,rT=.945,rTip=.965;
cg.selectAll("path.rib").data(ends).join("path").attr("class","rib")
 .attr("d",d=>{
   const p=d3.path(),A=pol(d.s0,rS),B=pol(d.s1,rS),C=pol(d.t0,rT),D=pol(d.t1,rT),M=pol((d.t0+d.t1)/2,rTip);
   p.moveTo(...A);p.lineTo(...B);p.quadraticCurveTo(0,0,...C);p.lineTo(...M);p.lineTo(...D);p.quadraticCurveTo(0,0,...A);p.closePath();
   return p.toString();})
 .attr("fill",d=>colorOf(d.t)).attr("fill-opacity",.52);
const arcGen=d3.arc().innerRadius(.982*R).outerRadius(1.018*R);
const rad=a=>a*Math.PI/180;
cg.selectAll("path.srcArc").data(sourceNames).join("path").attr("class","srcArc")
 .attr("d",n=>arcGen({startAngle:rad(srcSpan[n][0]),endAngle:rad(srcSpan[n][1])})).attr("fill","#000");
cg.selectAll("path.tgtArc").data(tissueCells).join("path").attr("class","tgtArc")
 .attr("d",n=>arcGen({startAngle:rad(tgtSpan[n][0]),endAngle:rad(tgtSpan[n][1])})).attr("fill",colorOf);
const srcLab={ICAM1:[888.8,1692,0],EGF:[934.8,1629.6,0],GH1:[967.5,1589,0],FGF2:[1020,1548.4,-3],IL6:[1070.8,1522,0],IL11:[1114,1510,0],THBS1:[1187.4,1502,2],SPP1:[1275,1506,6],VCAM1:[1352,1511,-50],CSF2:[1408.7,1552,-42],ADIPOQ:[1464.6,1579.6,-35],IL1A:[1470,1619,-30],MMP9:[1491.7,1641.5,-24],HGF:[1497.8,1667,-20],CD14:[1512,1692,-12]};
sourceNames.forEach(n=>{const l=srcLab[n];T(l[0],l[1],n,{size:20.8,anchor:"middle",rot:l[2]||0.001});});
const tgtLab={CF1:[1518.7,1769.7],CF2:[1514.4,1806],CF3:[1504.5,1843],CF4:[1484.5,1884],CM1:[1451.4,1930],CM2:[1410,1965],CM3:[1360,1996],EC1:[1306.8,2016],EC2:[1254,2027.4],EC3:[1198.8,2031],EC4:[1153,2027.4],EC5:[1098.3,2014.6,12],EndoC:[1038,1992,22],LEC:[994,1963],"MΦ1":[964,1936],"MΦ2":[943.3,1914],"MΦ3":[924.4,1887],"MΦ4":[910,1860],Mast:[896.4,1822],Tcells:[889.8,1779.6]};
const changeColor={up:"#0a0ae6",chd:"#e00a0a",none:"#111"};
tissueCells.forEach((n,i)=>{const l=tgtLab[n];T(l[0],l[1],n,{size:18.2,anchor:"middle",fill:changeColor[receptorChange[i]],rot:l[2]||0.001});});
T(1201.6,1456.5,"Cytokines in Plasma",{size:20.2,anchor:"middle"});
T(1206.8,2078,"Tissue Receptor Expression",{size:20.6,anchor:"middle"});
T(1404,2017.6,"Differential Abundance",{size:18});
T(1446.6,2037,"Up in Donor",{size:17.5,fill:changeColor.up});
T(1446.6,2060,"Up in CHD",{size:17.5,fill:changeColor.chd});
T(1446.6,2084,"No change",{size:17.5,fill:changeColor.none});
</script></body></html>
